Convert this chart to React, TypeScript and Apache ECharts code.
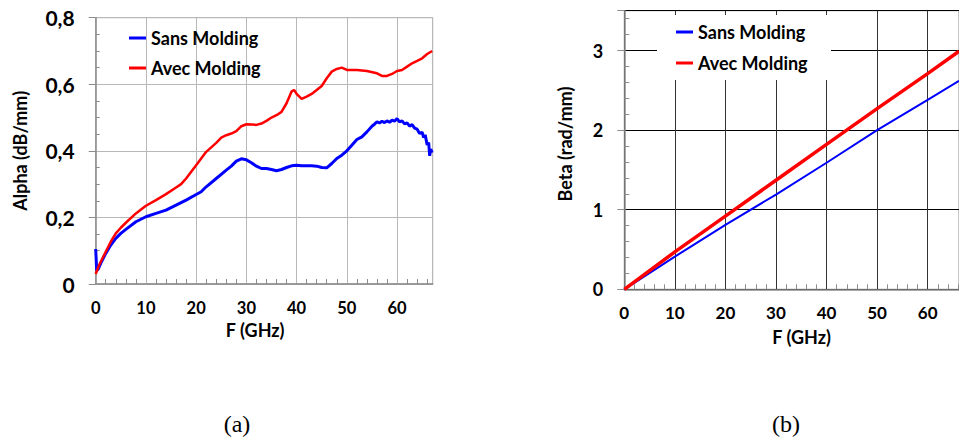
import React, { useEffect, useRef } from "react";
import * as echarts from "echarts";

// (a) Alpha vs frequency
const sansFreqA = [0, 0.2, 0.5, 1, 2, 3, 4, 5, 6, 8, 10, 12, 14, 16, 18, 20, 21, 22, 24, 26, 27, 28, 29, 30, 31, 32, 33, 34, 35, 36, 37, 38, 39, 40, 41, 42, 43, 44, 45, 46, 47, 48, 49, 50, 51, 52, 53, 54, 55, 55.5, 56, 56.5, 57, 57.5, 58, 58.5, 59, 59.5, 60, 60.5, 61, 61.5, 62, 62.5, 63, 63.5, 64, 64.5, 65, 65.3, 65.6, 66, 66.3, 66.5, 66.7, 67];
const sansAlpha = [0.105, 0.04, 0.045, 0.062, 0.092, 0.117, 0.137, 0.152, 0.164, 0.187, 0.202, 0.212, 0.222, 0.237, 0.252, 0.269, 0.277, 0.292, 0.317, 0.342, 0.354, 0.369, 0.376, 0.373, 0.364, 0.354, 0.347, 0.347, 0.344, 0.34, 0.344, 0.35, 0.355, 0.357, 0.355, 0.355, 0.355, 0.354, 0.35, 0.349, 0.362, 0.377, 0.387, 0.4, 0.417, 0.434, 0.442, 0.457, 0.474, 0.48, 0.487, 0.484, 0.489, 0.485, 0.49, 0.486, 0.492, 0.489, 0.497, 0.487, 0.49, 0.481, 0.484, 0.474, 0.479, 0.468, 0.465, 0.452, 0.456, 0.44, 0.448, 0.418, 0.425, 0.385, 0.405, 0.395];
const avecFreqA = [0, 0.5, 1, 2, 3, 4, 5, 6, 8, 10, 12, 14, 16, 17, 18, 20, 22, 24, 25, 26, 27, 28, 29, 30, 31, 32, 33, 34, 35, 36, 37, 38, 39, 39.5, 40, 41, 42, 43, 44, 45, 46, 47, 48, 49, 50, 52, 54, 56, 57, 58, 59, 60, 61, 62, 63, 64, 65, 66, 67];
const avecAlpha = [0.03, 0.05, 0.067, 0.097, 0.127, 0.152, 0.169, 0.184, 0.212, 0.235, 0.252, 0.27, 0.29, 0.3, 0.317, 0.357, 0.397, 0.424, 0.44, 0.447, 0.452, 0.459, 0.474, 0.48, 0.479, 0.478, 0.482, 0.49, 0.5, 0.507, 0.517, 0.543, 0.578, 0.583, 0.571, 0.556, 0.563, 0.571, 0.583, 0.595, 0.618, 0.638, 0.646, 0.65, 0.643, 0.643, 0.64, 0.633, 0.625, 0.625, 0.631, 0.64, 0.643, 0.653, 0.663, 0.67, 0.678, 0.691, 0.7];

// (b) Beta vs frequency
const freqB = [0, 10, 20, 30, 40, 50, 60, 66.2];
const sansBeta = [0, 0.41, 0.81, 1.19, 1.59, 2.0, 2.38, 2.62];
const avecBeta = [0, 0.47, 0.92, 1.37, 1.82, 2.27, 2.71, 2.99];

const seriesNames = ["Sans Molding", "Avec Molding"];
const captions = ["(a)", "(b)"];

const zip = (xs: number[], ys: number[]) => xs.map((x, i) => [x, ys[i]]);

const FONT = "Lato, 'Open Sans', sans-serif";
const SERIF = "'Liberation Serif', 'Times New Roman', serif";
const BLUE = "#0000ff";
const RED = "#ff0000";
const AXIS_GRAY = "#8c8c8c";

export default function App() {
  const ref = useRef<HTMLDivElement>(null);
  useEffect(() => {
    if (!ref.current) return;
    const chart = echarts.init(ref.current, undefined, { renderer: "svg" });
    const commaFmt = (v: number) => (v === 0 ? "0" : v.toFixed(1).replace(".", ","));
    const titleStyle = { fontFamily: FONT, fontWeight: "bold", fontSize: 18, color: "#000" };
    const legendText = { fontFamily: FONT, fontWeight: "bold", fontSize: 18, color: "#000", lineHeight: 20 };
    const option: any = {
      animation: false,
      backgroundColor: "#ffffff",
      grid: [
        { left: 95.7, top: 17.7, width: 337, height: 266.3, show: true, borderColor: "#a6a6a6", borderWidth: 1, backgroundColor: "transparent" },
        { left: 624.3, top: 10.7, width: 338, height: 278.6, show: true, borderColor: "#8c8c8c", borderWidth: 1, backgroundColor: "transparent" },
      ],
      xAxis: [
        {
          gridIndex: 0, type: "value", min: 0, max: 67.1, interval: 10,
          name: "F (GHz)", nameLocation: "middle", nameGap: 36,
          nameTextStyle: { ...titleStyle, padding: [0, 18, 0, 0] },
          axisLine: { show: true, lineStyle: { color: AXIS_GRAY, width: 1.5 } },
          axisTick: { show: false, inside: true },
          minorTick: { show: true, splitNumber: 5, length: 5, lineStyle: { color: AXIS_GRAY, width: 1 } },
          axisLabel: { fontFamily: FONT, fontWeight: "bold", fontSize: 16.5, color: "#000", margin: 15, showMaxLabel: false },
          splitLine: { show: true, lineStyle: { color: "#b8b8b8", width: 1 } },
        },
        {
          gridIndex: 1, type: "value", min: 0, max: 66.2, interval: 10,
          name: "F (GHz)", nameLocation: "middle", nameGap: 39,
          nameTextStyle: { ...titleStyle, padding: [0, 0, 0, 20] },
          axisLine: { show: true, lineStyle: { color: AXIS_GRAY, width: 1.5 } },
          axisTick: { show: false, inside: true },
          minorTick: { show: true, splitNumber: 5, length: 5, lineStyle: { color: AXIS_GRAY, width: 1 } },
          axisLabel: { fontFamily: FONT, fontWeight: "bold", fontSize: 17, color: "#000", margin: 15, showMaxLabel: false },
          splitLine: { show: true, lineStyle: { color: "#333", width: 1 } },
        },
      ],
      yAxis: [
        {
          gridIndex: 0, type: "value", position: "left", min: 0, max: 0.8, interval: 0.2,
          name: "Alpha (dB/mm)", nameLocation: "middle", nameGap: 67,
          nameTextStyle: titleStyle,
          axisLine: { show: true, lineStyle: { color: AXIS_GRAY, width: 1.5 } },
          axisTick: { show: false, inside: true },
          minorTick: { show: true, splitNumber: 4, length: 4, lineStyle: { color: AXIS_GRAY, width: 1 } },
          axisLabel: { fontFamily: FONT, fontWeight: "bold", fontSize: 21, color: "#000", margin: 21, formatter: commaFmt },
          splitLine: { show: true, lineStyle: { color: "#b8b8b8", width: 1 } },
        },
        {
          gridIndex: 0, type: "value", position: "left", min: 0, max: 0.8, interval: 0.2,
          axisLine: { show: false },
          axisTick: { show: true, inside: false, length: 7, lineStyle: { color: AXIS_GRAY, width: 1 } },
          axisLabel: { show: false },
          splitLine: { show: false },
        },
        {
          gridIndex: 1, type: "value", position: "left", min: 0, max: 3.5, interval: 1,
          name: "Beta (rad/mm)", nameLocation: "middle", nameGap: 50,
          nameTextStyle: { ...titleStyle, padding: [0, 0, 0, 12] },
          axisLine: { show: true, lineStyle: { color: AXIS_GRAY, width: 1.5 } },
          axisTick: { show: false, inside: true },
          minorTick: { show: true, splitNumber: 5, length: 5, lineStyle: { color: AXIS_GRAY, width: 1 } },
          axisLabel: { fontFamily: FONT, fontWeight: "bold", fontSize: 18, color: "#000", margin: 21, showMaxLabel: false },
          splitLine: { show: true, lineStyle: { color: "#000", width: 1 } },
        },
        {
          gridIndex: 1, type: "value", position: "left", min: 0, max: 3.5, interval: 1,
          axisLine: { show: false },
          axisTick: { show: true, inside: false, length: 7, lineStyle: { color: AXIS_GRAY, width: 1 } },
          axisLabel: { show: false },
          splitLine: { show: false },
        },
      ],
      legend: [
        {
          data: seriesNames, orient: "vertical", left: 129, top: 28, padding: 0, itemGap: 10,
          itemWidth: 17, itemHeight: 3, icon: "rect", textStyle: legendText,
        },
        {
          data: seriesNames, orient: "vertical", left: 676, top: 22, padding: 0, itemGap: 11,
          itemWidth: 17, itemHeight: 3, icon: "rect", textStyle: legendText,
        },
      ],
      graphic: [
        { type: "rect", shape: { x: 657, y: 15, width: 174, height: 65 }, style: { fill: "#ffffff" }, z: 1 },
        { type: "text", style: { text: captions[0], fontFamily: SERIF, fontSize: 24, fill: "#000", x: 237, y: 424, align: "center", verticalAlign: "middle" } },
        { type: "text", style: { text: captions[1], fontFamily: SERIF, fontSize: 24, fill: "#000", x: 786, y: 424, align: "center", verticalAlign: "middle" } },
      ],
      series: [
        { name: seriesNames[0], type: "line", xAxisIndex: 0, yAxisIndex: 0, data: zip(sansFreqA, sansAlpha), showSymbol: false, lineStyle: { color: BLUE, width: 3 }, itemStyle: { color: BLUE } },
        { name: seriesNames[1], type: "line", xAxisIndex: 0, yAxisIndex: 0, data: zip(avecFreqA, avecAlpha), showSymbol: false, lineStyle: { color: RED, width: 2.5 }, itemStyle: { color: RED } },
        { name: seriesNames[0], type: "line", xAxisIndex: 1, yAxisIndex: 2, data: zip(freqB, sansBeta), showSymbol: false, lineStyle: { color: BLUE, width: 2 }, itemStyle: { color: BLUE } },
        { name: seriesNames[1], type: "line", xAxisIndex: 1, yAxisIndex: 2, data: zip(freqB, avecBeta), showSymbol: false, lineStyle: { color: RED, width: 3.5 }, itemStyle: { color: RED } },
      ],
    };
    chart.setOption(option);
    return () => chart.dispose();
  }, []);
  return <div ref={ref} style={{ position: "fixed", left: 0, top: 0, width: 959, height: 443 }} />;
}
